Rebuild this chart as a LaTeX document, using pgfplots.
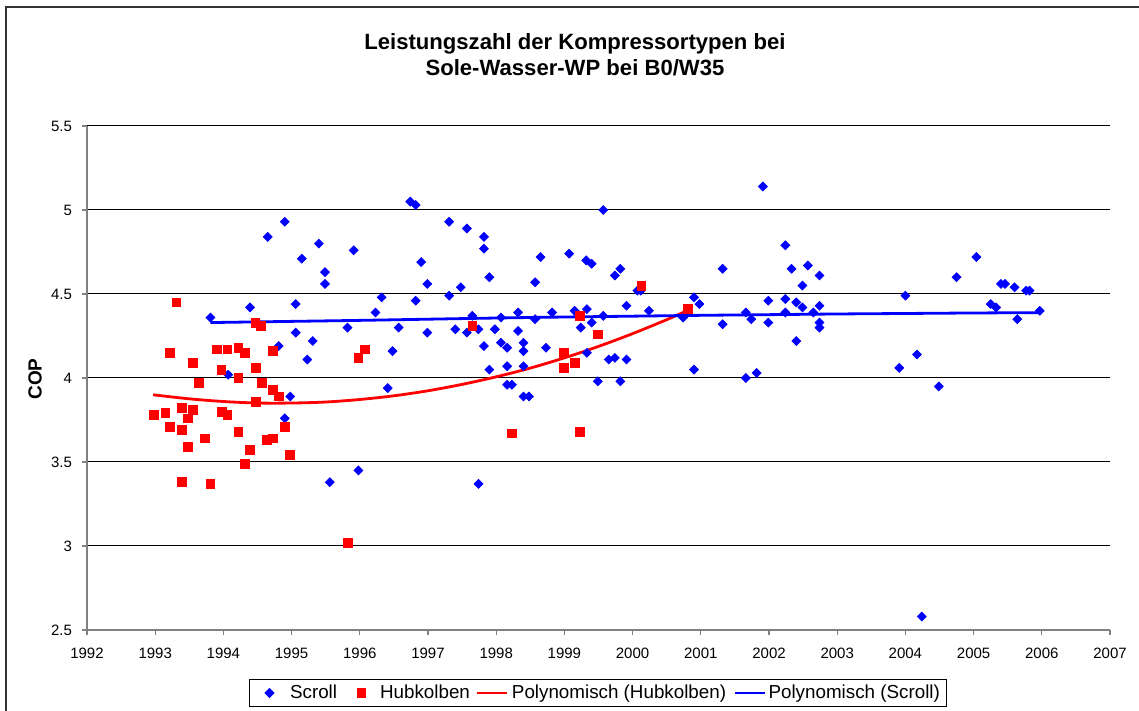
\documentclass[border=0pt]{standalone}
\usepackage{fontspec}
\setmainfont{Liberation Sans}
\usepackage{pgfplots}
\pgfplotsset{compat=1.18}
\pgfplotsset{
  legA/.style={legend image code/.code={\path (0pt,0pt) (20pt,0pt); \draw[##1] plot coordinates {(10pt,0pt)};}},
  legB/.style={legend image code/.code={\path (0pt,0pt) (21pt,0pt); \draw[##1] plot coordinates {(12pt,0pt)};}},
  legC/.style={legend image code/.code={\path (0pt,0pt) (19.6pt,0pt); \draw[##1] (2.6pt,0pt) -- (17.6pt,0pt);}},
  legD/.style={legend image code/.code={\path (0pt,0pt) (19.8pt,0pt); \draw[##1] (3.6pt,0pt) -- (18.6pt,0pt);}},
}
\begin{document}
\begin{tikzpicture}
\path[use as bounding box] (-43.5pt,-40.5pt) rectangle (526pt,315pt);
\draw[line width=0.9pt, black!80] (-40.5pt,-60pt) -- (-40.5pt,311.5pt) -- (560pt,311.5pt);
\begin{axis}[
  at={(0pt,0pt)}, anchor=south west,
  scale only axis, width=511.5pt, height=252pt,
  xmin=1992, xmax=2007, ymin=2.5, ymax=5.5,
  xtick={1992,1993,...,2007}, ytick={2.5,3,3.5,4,4.5,5,5.5},
  axis x line*=bottom, axis y line*=left,
  axis line style={black!50, line width=0.75pt, -},
  tick style={black!50, line width=0.6pt},
  tick align=outside, major tick length=2.5pt,
  ymajorgrids, grid style={black, line width=0.5pt},
  clip=false,
  /pgf/number format/assume math mode=true,
  tick label style={font=\fontsize{7.5}{9}\selectfont},
  xticklabel style={/pgf/number format/1000 sep={}, yshift=-3pt},
  yticklabel style={xshift=-1.5pt},
  legend columns=-1,
  legend style={at={(axis description cs:0.4995,-0.125)}, anchor=center,
    draw=black, line width=0.5pt, font=\fontsize{9.4}{11}\selectfont,
    inner xsep=0pt, inner ysep=1.4pt, column sep=0pt,
    nodes={inner xsep=0pt, inner ysep=1pt}},
]
\addplot[only marks, mark=square*, mark size=1.55pt, blue, mark options={rotate=45, fill=blue, draw=blue}, legA] coordinates {
(1993.81,4.36) (1994.07,4.02) (1994.39,4.42) (1994.65,4.84) (1994.81,4.19)
(1994.90,4.93) (1994.90,3.76) (1994.98,3.89) (1995.06,4.44) (1995.06,4.27)
(1995.15,4.71) (1995.23,4.11) (1995.31,4.22) (1995.40,4.80) (1995.49,4.63)
(1995.49,4.56) (1995.56,3.38) (1995.82,4.30) (1995.91,4.76) (1995.98,3.45)
(1996.23,4.39) (1996.32,4.48) (1996.41,3.94) (1996.48,4.16) (1996.57,4.30)
(1996.74,5.05) (1996.82,5.03) (1996.82,4.46) (1996.90,4.69) (1996.99,4.56)
(1996.99,4.27) (1997.31,4.93) (1997.31,4.49) (1997.40,4.29) (1997.48,4.54)
(1997.57,4.89) (1997.57,4.27) (1997.65,4.37) (1997.74,4.29) (1997.74,3.37)
(1997.82,4.84) (1997.82,4.77) (1997.82,4.19) (1997.90,4.60) (1997.90,4.05)
(1997.98,4.29) (1998.07,4.36) (1998.07,4.21) (1998.16,4.18) (1998.16,4.07)
(1998.16,3.96) (1998.23,3.96) (1998.32,4.39) (1998.32,4.28) (1998.40,4.21)
(1998.40,4.16) (1998.40,4.07) (1998.40,3.89) (1998.48,3.89) (1998.57,4.57)
(1998.57,4.35) (1998.65,4.72) (1998.73,4.18) (1998.82,4.39) (1999.07,4.74)
(1999.15,4.40) (1999.24,4.30) (1999.33,4.41) (1999.33,4.15) (1999.32,4.70)
(1999.40,4.68) (1999.40,4.33) (1999.49,3.98) (1999.57,4.37) (1999.57,5.00)
(1999.65,4.11) (1999.74,4.12) (1999.74,4.61) (1999.82,4.65) (1999.82,3.98)
(1999.91,4.11) (1999.91,4.43) (2000.07,4.52) (2000.12,4.52) (2000.24,4.40)
(2000.74,4.36) (2000.90,4.48) (2000.98,4.44) (2000.90,4.05) (2001.32,4.65)
(2001.32,4.32) (2001.66,4.39) (2001.74,4.35) (2001.66,4.00) (2001.82,4.03)
(2001.91,5.14) (2001.99,4.46) (2001.99,4.33) (2002.24,4.79) (2002.24,4.47)
(2002.24,4.39) (2002.33,4.65) (2002.40,4.45) (2002.40,4.22) (2002.49,4.55)
(2002.49,4.42) (2002.57,4.67) (2002.65,4.39) (2002.74,4.61) (2002.74,4.43)
(2002.74,4.33) (2002.74,4.30) (2003.91,4.06) (2004.00,4.49) (2004.17,4.14)
(2004.24,2.58) (2004.49,3.95) (2004.75,4.60) (2005.04,4.72) (2005.25,4.44)
(2005.33,4.42) (2005.40,4.56) (2005.46,4.56) (2005.60,4.54) (2005.64,4.35)
(2005.77,4.52) (2005.82,4.52) (2005.97,4.40)
};
\addlegendentry{Scroll}
\addplot[only marks, mark=square*, mark size=2.2pt, red, mark options={fill=red, draw=red}, legB] coordinates {
(1992.98,3.78) (1993.15,3.79) (1993.22,3.71) (1993.22,4.15) (1993.31,4.45)
(1993.39,3.82) (1993.39,3.69) (1993.39,3.38) (1993.48,3.76) (1993.48,3.59)
(1993.55,3.81) (1993.55,4.09) (1993.64,3.97) (1993.73,3.64) (1993.81,3.37)
(1993.90,4.17) (1993.97,4.05) (1993.98,3.80) (1994.06,4.17) (1994.06,3.78)
(1994.22,4.18) (1994.22,4.00) (1994.22,3.68) (1994.31,4.15) (1994.32,3.49)
(1994.39,3.57) (1994.47,4.33) (1994.48,4.06) (1994.48,3.86) (1994.55,4.31)
(1994.56,3.97) (1994.64,3.63) (1994.73,4.16) (1994.73,3.93) (1994.73,3.64)
(1994.81,3.89) (1994.90,3.71) (1994.98,3.54) (1995.82,3.02) (1995.98,4.12)
(1996.07,4.17) (1997.65,4.31) (1998.23,3.67) (1998.99,4.15) (1998.99,4.06)
(1999.15,4.09) (1999.23,4.37) (1999.23,3.68) (1999.49,4.26) (2000.13,4.55)
(2000.81,4.41)
};
\addlegendentry{Hubkolben}
\addplot[red, line width=1.4pt, smooth, no marks, legC] coordinates {
(1992.97,3.900) (1993.5,3.876) (1994.0,3.860) (1994.5,3.851) (1995.0,3.851)
(1995.5,3.857) (1996.0,3.872) (1996.5,3.894) (1997.0,3.924) (1997.5,3.962)
(1998.0,4.007) (1998.5,4.059) (1999.0,4.120) (1999.5,4.188) (2000.0,4.264)
(2000.5,4.347) (2000.8,4.401)
};
\addlegendentry{Polynomisch (Hubkolben)}
\addplot[blue, line width=1.4pt, smooth, no marks, legD] coordinates {
(1993.81,4.330) (1995,4.337) (1996,4.343) (1997,4.350) (1998,4.357)
(1999,4.363) (2000,4.368) (2001,4.373) (2002,4.377) (2003,4.381)
(2004,4.384) (2005,4.387) (2005.97,4.389)
};
\addlegendentry{Polynomisch (Scroll)\kern3.5pt}
\node[align=center, font=\bfseries\fontsize{11.05}{13}\selectfont] at (axis description cs:0.477,1.141)
  {Leistungszahl der Kompressortypen bei\\Sole-Wasser-WP bei B0/W35};
\node[rotate=90, font=\bfseries\fontsize{9.5}{11}\selectfont] at (axis description cs:-0.0508,0.498) {COP};
\end{axis}
\end{tikzpicture}
\end{document}
